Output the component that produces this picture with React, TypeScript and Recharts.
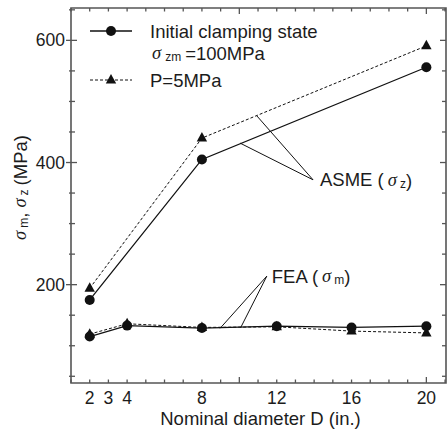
import React from "react";
import {
  LineChart,
  Line,
  XAxis,
  YAxis,
  ReferenceArea,
  ReferenceLine,
  ReferenceDot,
} from "recharts";

// ---- data ----
const asmeDiameters = [2, 8, 20];
const asmeInitial = [175, 405, 556];
const asmeP5 = [194, 440, 591];

const feaDiameters = [2, 4, 8, 12, 16, 20];
const feaInitial = [115, 133, 129, 132, 130, 132];
const feaP5 = [119, 136, 130, 131, 124, 121];

const xTickValues = [1, 2, 3, 4, 5, 6, 7, 8, 9, 10, 11, 12, 13, 14, 15, 16, 17, 18, 19, 20, 21];
const xTickLabels = [2, 3, 4, 8, 12, 16, 20];
const yTickValues = [50, 100, 150, 200, 250, 300, 350, 400, 450, 500, 550, 600, 650];
const yTickLabels = [200, 400, 600];

const xDomain = [1, 21.05];
const yDomain = [39, 653];

// annotation leader lines (data units)
const asmeLeaders = [
  { from: { x: 10.93, y: 476.6 }, to: { x: 13.94, y: 371.7 } },
  { from: { x: 10.04, y: 431.8 }, to: { x: 13.94, y: 371.7 } },
];
const asmeLabelAnchor = { x: 13.94, y: 371.7 };
const feaLeaders = [
  { from: { x: 11.47, y: 214 }, to: { x: 8.97, y: 128.5 } },
  { from: { x: 11.47, y: 214 }, to: { x: 10.07, y: 129.5 } },
];
const feaLabelAnchor = { x: 11.47, y: 214 };

const toPoints = (xs: number[], ys: number[]) => xs.map((d, i) => ({ d, v: ys[i] }));

// ---- layout ----
const W = 448;
const H = 429;
const MARGIN = { top: 8, right: 2, bottom: 0, left: 0 };
const Y_AXIS_W = 71;
const X_AXIS_H = 46;
const PLOT_TOP = MARGIN.top;
const PLOT_RIGHT = W - MARGIN.right;

const SANS = "'Liberation Sans', Arial, Helvetica, sans-serif";
const SERIF = "'Liberation Serif', 'Times New Roman', serif";
const TEXT = "#1c1c1c";
const INK = "#111";
const FRAME = "#555";

function XTick(props: any) {
  const { x, y, payload } = props;
  const v = payload.value;
  const len = v % 10 === 0 ? 6 : 3.5;
  return (
    <g>
      <line x1={x} x2={x} y1={y} y2={y - len} stroke={FRAME} strokeWidth={1.3} />
      <line x1={x} x2={x} y1={PLOT_TOP} y2={PLOT_TOP + len} stroke={FRAME} strokeWidth={1.3} />
      {xTickLabels.includes(v) && (
        <text x={x} y={y + 15} textAnchor="middle" dominantBaseline="central" fontSize={17.5} fontFamily={SANS} fill={TEXT}>
          {v}
        </text>
      )}
    </g>
  );
}

function YTick(props: any) {
  const { x, y, payload } = props;
  const v = payload.value;
  const major = yTickLabels.includes(v);
  const inLen = major ? 6 : 4;
  const outLen = major ? 5 : 2;
  return (
    <g>
      <line x1={x - outLen} x2={x + inLen} y1={y} y2={y} stroke={FRAME} strokeWidth={1.3} />
      <line x1={PLOT_RIGHT} x2={PLOT_RIGHT - inLen} y1={y} y2={y} stroke={FRAME} strokeWidth={1.3} />
      {major && (
        <text x={x - 6} y={y} textAnchor="end" dominantBaseline="central" fontSize={17.5} fontFamily={SANS} fill={TEXT}>
          {v}
        </text>
      )}
    </g>
  );
}

function Triangle(props: any) {
  const { cx, cy } = props;
  if (cx == null || cy == null) return null;
  return <path d={`M${cx},${cy - 6} L${cx + 5.2},${cy + 3.5} L${cx - 5.2},${cy + 3.5} Z`} fill={INK} />;
}

function XLabel(props: any) {
  const vb = props.viewBox || {};
  return (
    <text x={vb.x + vb.width / 2 + 2} y={vb.y + 35} textAnchor="middle" dominantBaseline="central" fontSize={18.5} fontFamily={SANS} fill={TEXT}>
      Nominal diameter D (in.)
    </text>
  );
}

function YLabel(props: any) {
  const vb = props.viewBox || {};
  const cx = 20;
  const cy = vb.y + vb.height / 2 - 8;
  return (
    <text x={cx} y={cy} transform={`rotate(-90, ${cx}, ${cy})`} textAnchor="middle" dominantBaseline="central" fontSize={18.5} fontFamily={SANS} fill={TEXT}>
      <tspan fontFamily={SERIF} fontStyle="italic">σ</tspan>
      <tspan fontSize={12} dx={3} dy={4}>m</tspan>
      <tspan dy={-4}>, </tspan>
      <tspan fontFamily={SERIF} fontStyle="italic">σ</tspan>
      <tspan fontSize={12} dx={3} dy={4}>z</tspan>
      <tspan dx={4} dy={-4}>(MPa)</tspan>
    </text>
  );
}

function makeAnnoLabel(main: string, sub: string, dx: number) {
  return (props: any) => {
    const vb = props.viewBox || {};
    const x = vb.x + dx;
    const y = vb.y;
    return (
      <text x={x} y={y} dominantBaseline="central" fontSize={18.5} fontFamily={SANS} fill={TEXT}>
        {main}
        <tspan dx={4} fontFamily={SERIF} fontStyle="italic">σ</tspan>
        <tspan fontSize={12} dx={3} dy={4}>{sub}</tspan>
        <tspan dy={-4}>)</tspan>
      </text>
    );
  };
}

function LegendOverlay() {
  return (
    <svg width={W} height={H} style={{ position: "absolute", left: 0, top: 0, pointerEvents: "none" }}>
      <line x1={90} x2={132} y1={31} y2={31} stroke={INK} strokeWidth={1.3} />
      <circle cx={111} cy={31} r={5} fill={INK} />
      <text x={150} y={31} dominantBaseline="central" fontSize={18.5} fontFamily={SANS} fill={TEXT}>
        Initial clamping state
      </text>
      <text x={152} y={53} dominantBaseline="central" fontSize={18.5} fontFamily={SANS} fill={TEXT}>
        <tspan fontFamily={SERIF} fontStyle="italic">σ</tspan>
        <tspan fontSize={12} dx={4} dy={4}>zm</tspan>
        <tspan dx={4} dy={-4}>=100MPa</tspan>
      </text>
      <line x1={90} x2={132} y1={80} y2={80} stroke={INK} strokeWidth={1} strokeDasharray="3 2" />
      <path d="M111,74 L116.2,83.5 L105.8,83.5 Z" fill={INK} />
      <text x={150} y={80} dominantBaseline="central" fontSize={18.5} fontFamily={SANS} fill={TEXT}>
        P=5MPa
      </text>
    </svg>
  );
}

export default function App() {
  return (
    <div style={{ position: "absolute", left: 0, top: 0, width: W, height: H, background: "#fff" }}>
      <LineChart width={W} height={H} margin={MARGIN}>
        <XAxis
          dataKey="d"
          type="number"
          domain={xDomain}
          ticks={xTickValues}
          interval={0}
          allowDataOverflow
          height={X_AXIS_H}
          axisLine={false}
          tickLine={false}
          tickSize={0}
          tickMargin={0}
          tick={<XTick />}
          label={<XLabel />}
        />
        <YAxis
          dataKey="v"
          type="number"
          domain={yDomain}
          ticks={yTickValues}
          interval={0}
          allowDataOverflow
          width={Y_AXIS_W}
          axisLine={false}
          tickLine={false}
          tickSize={0}
          tickMargin={0}
          tick={<YTick />}
          label={<YLabel />}
        />
        <ReferenceArea
          x1={xDomain[0]}
          x2={xDomain[1]}
          y1={yDomain[0]}
          y2={yDomain[1]}
          fill="none"
          fillOpacity={0}
          stroke={FRAME}
          strokeWidth={1.6}
        />
        {asmeLeaders.map((s, i) => (
          <ReferenceLine key={"a" + i} segment={[s.from, s.to]} stroke={INK} strokeWidth={1} />
        ))}
        {feaLeaders.map((s, i) => (
          <ReferenceLine key={"f" + i} segment={[s.from, s.to]} stroke={INK} strokeWidth={1} />
        ))}
        <ReferenceDot x={asmeLabelAnchor.x} y={asmeLabelAnchor.y} r={0} fill="none" stroke="none" label={makeAnnoLabel("ASME (", "z", 7)} />
        <ReferenceDot x={feaLabelAnchor.x} y={feaLabelAnchor.y} r={0} fill="none" stroke="none" label={makeAnnoLabel("FEA (", "m", 5)} />
        <Line
          data={toPoints(asmeDiameters, asmeInitial)}
          dataKey="v"
          type="linear"
          stroke={INK}
          strokeWidth={1.3}
          dot={{ r: 5, fill: INK, stroke: "none" }}
          isAnimationActive={false}
        />
        <Line
          data={toPoints(asmeDiameters, asmeP5)}
          dataKey="v"
          type="linear"
          stroke={INK}
          strokeWidth={1}
          strokeDasharray="3 2"
          dot={<Triangle />}
          isAnimationActive={false}
        />
        <Line
          data={toPoints(feaDiameters, feaP5)}
          dataKey="v"
          type="linear"
          stroke={INK}
          strokeWidth={1}
          strokeDasharray="3 2"
          dot={<Triangle />}
          isAnimationActive={false}
        />
        <Line
          data={toPoints(feaDiameters, feaInitial)}
          dataKey="v"
          type="linear"
          stroke={INK}
          strokeWidth={1.3}
          dot={{ r: 5, fill: INK, stroke: "none" }}
          isAnimationActive={false}
        />
      </LineChart>
      <LegendOverlay />
    </div>
  );
}
